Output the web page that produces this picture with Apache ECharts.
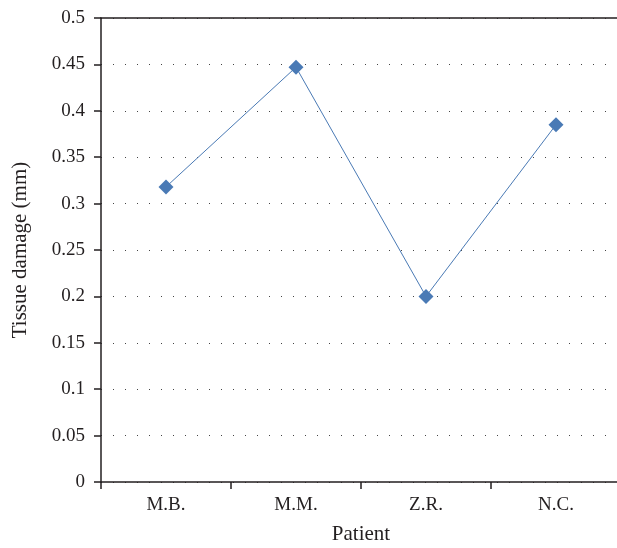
<!DOCTYPE html>
<html>
<head>
<meta charset="utf-8">
<style>html,body{margin:0;padding:0;background:#fff;}#c{width:617px;height:548px;}</style>
<script src="https://cdn.jsdelivr.net/npm/echarts@6/dist/echarts.min.js"></script>
</head>
<body>
<div id="c"></div>
<script>
const categories = ["M.B.", "M.M.", "Z.R.", "N.C."];
const tissueDamage = [0.318, 0.447, 0.2, 0.385];
const yTicks = { min: 0, max: 0.5, interval: 0.05 };

const font = "Liberation Serif";
const ink = "#231f20";
const chart = echarts.init(document.getElementById('c'), null, { renderer: 'canvas' });
chart.setOption({
  animation: false,
  backgroundColor: '#fff',
  grid: { left: 101, top: 18, width: 520, bottom: 66, outerBoundsMode: 'none', containLabel: false },
  xAxis: [{
    type: 'category',
    data: categories,
    boundaryGap: true,
    name: 'Patient',
    nameLocation: 'middle',
    nameGap: 42,
    nameTextStyle: { fontFamily: font, fontSize: 21, color: ink },
    axisLine: { lineStyle: { color: ink, width: 1.5 } },
    axisTick: { show: true, length: 7, alignWithLabel: false, lineStyle: { color: ink, width: 1.5 } },
    axisLabel: { fontFamily: font, fontSize: 19, color: ink, margin: 14 },
    splitLine: { show: false }
  }, {
    type: 'category',
    data: categories,
    position: 'top',
    axisLine: { lineStyle: { color: ink, width: 1.5 } },
    axisTick: { show: false },
    axisLabel: { show: false },
    splitLine: { show: false }
  }],
  yAxis: {
    type: 'value',
    min: yTicks.min, max: yTicks.max, interval: yTicks.interval,
    name: 'Tissue damage (mm)',
    nameLocation: 'middle',
    nameGap: 70,
    nameTextStyle: { fontFamily: font, fontSize: 21, color: ink },
    axisLine: { show: true, lineStyle: { color: ink, width: 1.5 } },
    axisTick: { show: true, length: 7, lineStyle: { color: ink, width: 1.5 } },
    axisLabel: { fontFamily: font, fontSize: 19, color: ink, margin: 16,
      formatter: v => String(parseFloat(v.toFixed(2))) },
    splitLine: { show: true, lineStyle: { color: '#444', width: 1, type: [1, 11], dashOffset: 0 } }
  },
  series: [{
    type: 'line',
    xAxisIndex: 0,
    data: tissueDamage,
    symbol: 'diamond',
    symbolSize: 15,
    itemStyle: { color: '#4a7ab5' },
    lineStyle: { color: '#4a7ab5', width: 1 }
  }]
});
</script>
</body>
</html>
